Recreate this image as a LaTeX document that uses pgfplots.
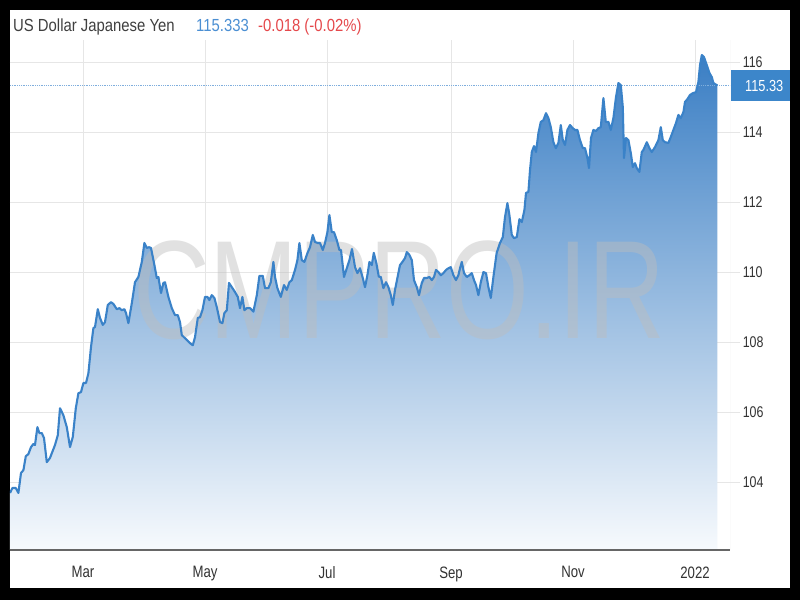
\documentclass[border=0pt]{standalone}
\usepackage{pgfplots}
\pgfplotsset{compat=1.18}
\usepackage{pgfplotstable}
\usepackage{fontspec}
\setmainfont{Liberation Sans}
\definecolor{lineblue}{HTML}{3A82C8}
\definecolor{boxblue}{HTML}{3C86CA}
\definecolor{filltop}{HTML}{3A7EC4}
\definecolor{fillmid}{HTML}{8DB7E0}
\definecolor{fillbot}{HTML}{F7FAFD}
\definecolor{gridgrey}{HTML}{E6E6E6}
\definecolor{labelgrey}{HTML}{333333}
\definecolor{axisgrey}{HTML}{666666}
\definecolor{titlegrey}{HTML}{404040}
\definecolor{valblue}{HTML}{4B8FD3}
\definecolor{negred}{HTML}{E5484B}
\definecolor{dotblue}{HTML}{7FAEDD}
\definecolor{wmgrey}{HTML}{BDBDBD}

\pgfplotstableread{
d v
22.5 103.69
23.7 103.83
25.4 103.83
26.7 103.69
28.0 104.26
29.2 104.34
30.4 104.74
31.7 104.80
33.0 105.00
34.2 105.09
35.0 105.06
36.2 105.57
37.2 105.40
38.4 105.40
39.5 105.26
40.9 104.57
42.5 104.69
45.0 105.06
46.4 105.34
47.5 106.11
49.2 105.91
50.9 105.57
52.5 105.00
53.9 105.29
55.4 106.11
56.7 106.54
58.0 106.57
59.2 106.83
60.5 106.83
61.7 107.11
63.0 107.86
64.2 108.40
65.0 108.43
66.4 108.94
67.5 108.69
68.9 108.49
70.0 108.57
71.4 109.06
73.0 109.14
74.2 109.09
75.9 108.94
77.2 108.97
78.4 108.91
79.7 108.94
80.5 108.83
81.7 108.54
83.4 109.11
85.0 109.71
86.7 109.86
88.4 110.29
89.7 110.83
90.9 110.69
92.0 110.71
93.0 110.69
94.7 110.20
95.9 109.83
96.7 109.86
98.0 109.40
99.2 109.69
100.0 109.71
101.7 109.29
103.4 108.97
105.0 108.77
106.4 108.77
107.5 108.57
108.4 108.20
110.0 108.11
112.5 107.97
113.9 107.91
115.0 108.14
116.4 108.69
117.5 108.71
118.7 108.91
120.0 109.29
121.2 109.29
122.2 109.20
123.4 109.34
124.7 109.26
125.9 109.00
127.5 108.57
128.7 108.54
129.7 108.83
130.9 108.91
132.0 109.69
133.4 109.57
135.0 109.43
136.4 109.29
137.5 108.97
138.7 109.29
139.7 108.91
140.9 108.97
142.5 108.97
144.2 108.87
145.9 109.34
147.2 109.89
148.9 109.89
150.0 109.54
151.7 109.54
152.9 109.71
154.2 110.29
155.0 109.86
156.2 109.54
157.9 109.29
159.5 109.63
160.9 109.49
162.2 109.71
163.4 109.77
165.0 110.06
166.2 110.34
167.2 110.83
168.4 110.34
169.7 110.29
171.2 110.54
172.5 110.71
173.9 111.06
175.0 110.86
176.4 110.83
177.5 110.83
178.9 110.63
180.0 110.83
181.2 111.14
182.2 111.63
183.4 111.14
184.5 111.14
185.9 110.91
187.2 110.63
188.0 110.63
189.5 109.86
190.9 110.11
192.2 110.34
193.5 110.66
195.0 110.14
196.2 109.97
197.5 110.11
198.9 109.83
200.0 109.57
201.2 109.91
202.2 110.29
203.4 110.20
204.4 110.55
205.7 110.25
206.9 109.87
207.9 109.86
209.2 109.54
210.5 109.71
211.7 109.57
212.9 109.34
213.9 109.06
215.0 109.49
216.2 109.83
217.5 110.20
218.7 110.29
220.0 110.40
220.9 110.57
222.2 110.49
223.4 110.34
224.5 109.77
225.9 109.57
227.0 109.34
228.4 109.69
229.5 109.83
230.9 109.83
232.2 109.86
233.4 109.77
234.5 109.86
235.5 110.06
236.7 110.00
237.9 109.91
239.2 109.97
240.5 110.06
241.7 110.11
242.9 110.14
244.2 109.91
245.5 109.77
246.7 109.91
247.5 110.11
248.4 110.29
249.5 109.97
250.9 109.86
252.2 109.91
253.4 109.97
254.5 109.77
255.5 109.63
256.7 109.34
257.9 109.71
259.2 110.00
260.5 109.97
261.7 109.57
262.9 109.26
264.2 109.86
265.8 110.54
267.5 110.83
268.9 111.00
270.0 111.57
271.2 111.97
272.2 111.63
273.4 111.06
274.5 110.97
275.9 111.00
277.2 111.51
278.4 111.43
279.7 111.77
280.5 112.26
281.7 112.29
282.5 112.91
283.4 113.43
284.5 113.60
285.5 113.43
286.7 113.97
287.9 114.29
289.2 114.34
290.5 114.54
291.7 114.40
292.9 114.14
294.2 113.71
295.4 113.54
296.7 113.69
297.9 114.20
298.9 113.77
300.0 113.63
301.2 114.06
302.5 114.20
303.9 114.11
305.0 114.06
306.2 114.06
307.5 113.77
308.9 113.54
310.0 113.54
311.2 113.26
312.0 112.97
313.0 113.83
314.2 114.06
315.5 114.03
316.7 114.11
317.9 114.14
319.2 114.97
320.4 114.29
321.7 114.29
322.9 114.06
324.2 114.40
325.5 115.00
326.7 115.40
327.9 115.34
328.9 114.71
329.5 113.26
330.5 113.83
331.7 113.77
332.9 113.40
333.9 113.00
335.0 113.11
335.9 112.97
337.2 112.86
338.4 113.43
339.2 113.49
340.9 113.71
342.2 113.54
343.4 113.43
345.0 113.57
346.7 113.77
347.9 114.14
348.9 113.77
350.0 113.71
351.7 113.69
352.9 113.86
354.2 114.06
355.5 114.26
356.7 114.49
357.9 114.40
359.2 114.57
360.0 114.86
361.2 114.94
362.5 115.06
363.9 115.11
365.5 115.14
366.7 115.43
367.5 115.91
368.4 116.20
369.5 116.14
370.9 115.91
372.2 115.69
373.4 115.57
374.2 115.40
376.2 115.33
}\fx

\begin{document}
\begin{tikzpicture}[x=1pt,y=1pt]
\fill[black] (0,0) rectangle (800,600);
\fill[white] (10,12) rectangle (790,590);
\begin{axis}[
  at={(10pt,50pt)}, anchor=south west,
  scale only axis, width=720pt, height=510pt,
  xmin=22.5, xmax=382.5, ymin=102.06, ymax=116.63,
  axis line style={draw=none},
  xtick={59,120,181,243,304,365},
  xticklabels={Mar,May,Jul,Sep,Nov,2022},
  ytick={104,106,108,110,112,114,116},
  yticklabel pos=right,
  ytick pos=right,
  xtick pos=bottom,
  grid=major,
  major grid style={color=gridgrey, line width=0.9pt},
  tick align=outside,
  major tick length=10pt,
  ytick style={color=gridgrey, line width=0.9pt},
  xtick style={draw=none},
  /pgf/number format/assume math mode=true,
  yticklabel style={font=\fontsize{15.5}{15.5}\selectfont, text=labelgrey, xscale=0.8, anchor=west},
  xticklabel style={font=\fontsize{16.5}{16.5}\selectfont, text=labelgrey, xscale=0.8, yshift=-3pt},
]
\addplot[draw=none, top color=filltop, middle color=fillmid, bottom color=fillbot]
  table[x=d,y=v]{\fx} -- (axis cs:376.2,102.06) -- (axis cs:22.5,102.06) -- cycle;
\node[anchor=base, font=\fontsize{140}{140}\selectfont, text=wmgrey, opacity=0.45, xscale=0.76]
  at (axis cs:217,108.11) {CMPRO.IR};
\draw[densely dotted, color=dotblue, line width=0.8pt] (axis cs:22.5,115.33) -- (axis cs:382.5,115.33);
\addplot[color=lineblue, line width=2.1pt, line join=round] table[x=d,y=v]{\fx};
\draw[color=gridgrey, line width=0.9pt] (rel axis cs:1,0) -- (rel axis cs:1,1);
\draw[color=axisgrey, line width=1.5pt] (rel axis cs:0,0) -- (rel axis cs:1,0);
\end{axis}
\fill[boxblue] (731,499) rectangle (790,530);
\node[anchor=west, text=white, font=\fontsize{16}{16}\selectfont, xscale=0.8, inner sep=0] at (745,514.5) {115.33};
\node[anchor=base west, font=\fontsize{17.5}{17.5}\selectfont, text=titlegrey, xscale=0.85, inner sep=0] at (13,568) {US Dollar Japanese Yen};
\node[anchor=base west, font=\fontsize{17.5}{17.5}\selectfont, text=valblue, xscale=0.85, inner sep=0] at (196,568) {115.333};
\node[anchor=base west, font=\fontsize{17.5}{17.5}\selectfont, text=negred, xscale=0.85, inner sep=0] at (258,568) {-0.018 (-0.02\%)};
\end{tikzpicture}
\end{document}
